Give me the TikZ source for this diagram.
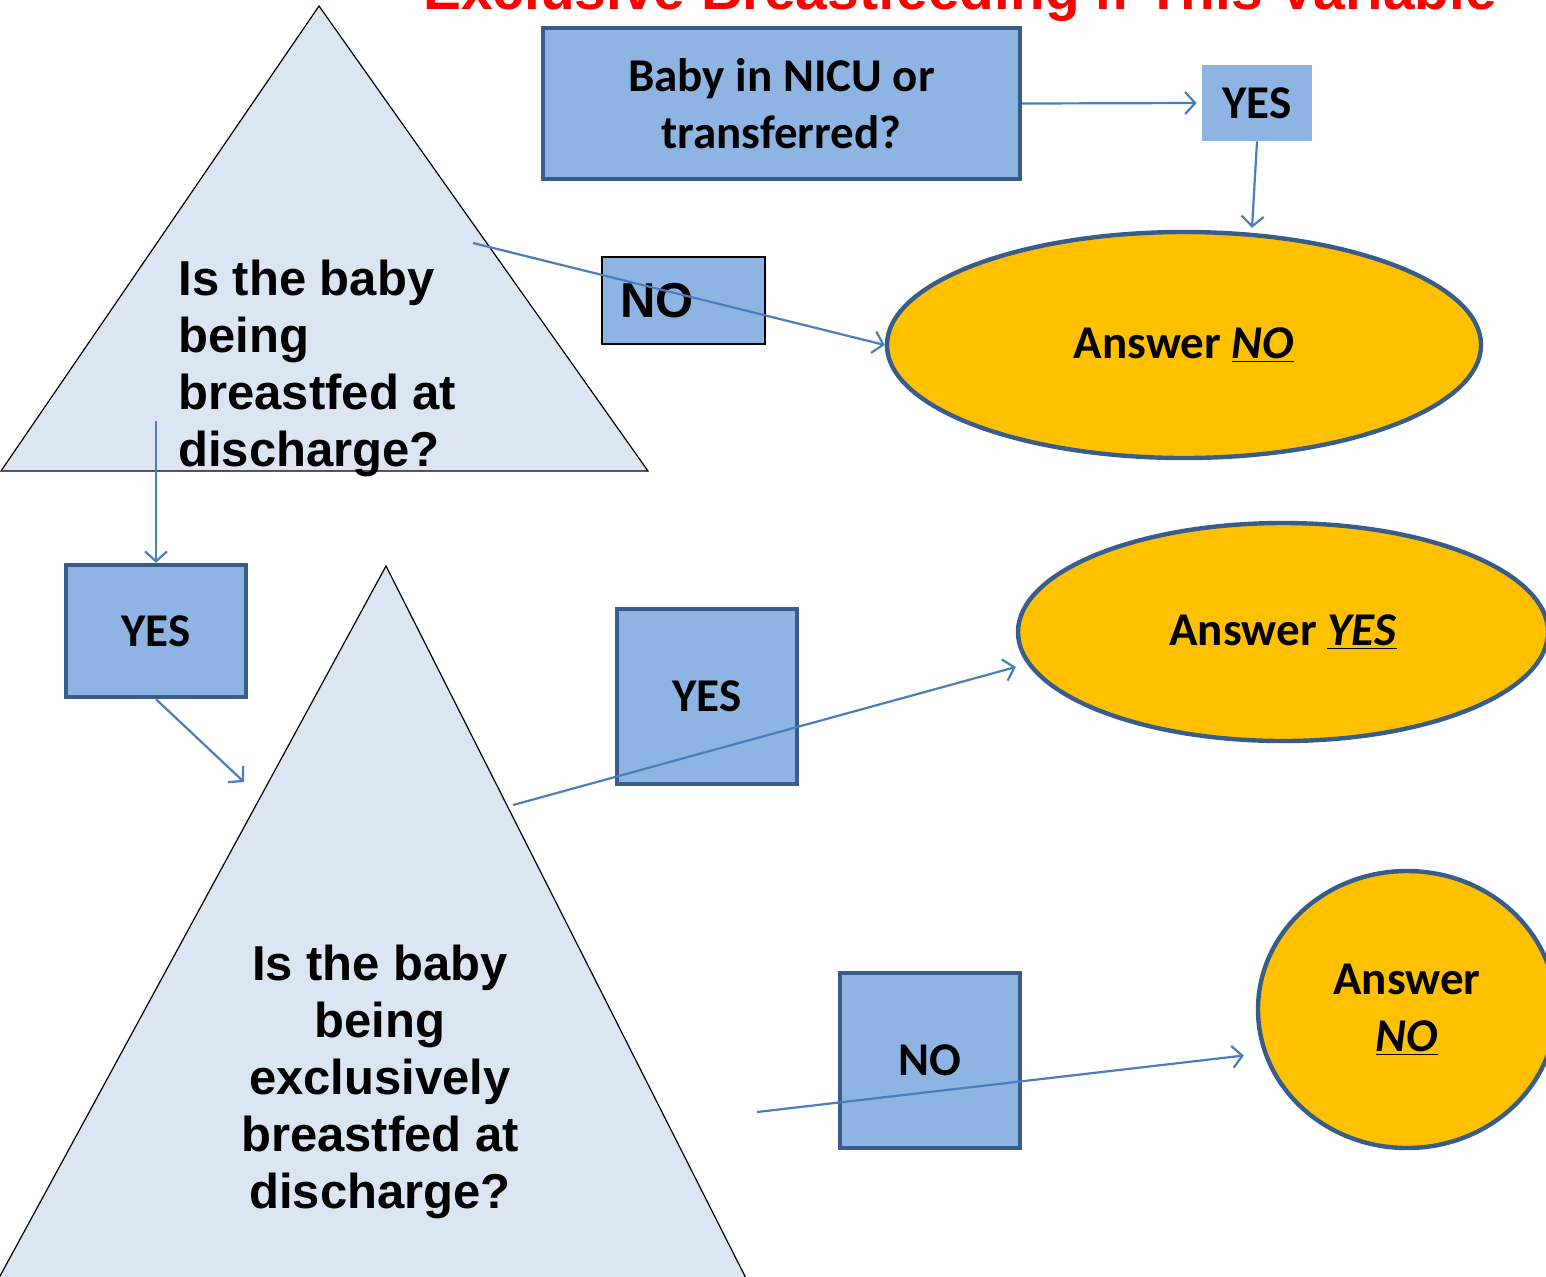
\documentclass[tikz,border=0pt]{standalone}
\usepackage{fontspec}
\setmainfont{Liberation Sans}
\newfontfamily\calib{Carlito}
\usetikzlibrary{shapes.geometric,arrows.meta,calc}
\definecolor{boxfill}{HTML}{8EB4E3}
\definecolor{boxline}{HTML}{385D8A}
\definecolor{trifill}{HTML}{DCE6F2}
\definecolor{ansfill}{HTML}{FFC000}
\definecolor{arrowc}{HTML}{4A7EBB}
\definecolor{titlered}{HTML}{FF0000}
\begin{document}
\begin{tikzpicture}[x=0.5pt,y=-0.5pt,
  calfont/.style={font=\calib\bfseries\fontsize{23.5}{28.5}\selectfont},
  arialfont/.style={font=\bfseries\fontsize{24.5}{28.5}\selectfont},
  bluebox/.style={rectangle, draw=boxline, line width=2.2pt, fill=boxfill, inner sep=0pt, calfont, align=center},
  plainbox/.style={rectangle, fill=boxfill, inner sep=0pt, calfont, align=center},
  nobox/.style={rectangle, draw=black, line width=0.7pt, fill=boxfill, inner ysep=0pt, inner xsep=9pt, arialfont, align=left},
  answer/.style={ellipse, draw=boxline, line width=2.2pt, fill=ansfill, inner sep=0pt, calfont, align=center},
  tri/.style={fill=trifill, draw=black, line width=0.6pt},
  conn/.style={draw=arrowc, line width=1.1pt, -{Straight Barb[length=5pt,width=11pt]}}
]
\useasboundingbox (0,0) rectangle (1546,1276);
\clip (0,0) rectangle (1546,1276);

% title (cut off at top, as in the reference)
\node[anchor=base, inner sep=0pt, text=titlered, font=\bfseries\fontsize{28.4}{30}\selectfont] (title) at (960,9) {Exclusive Breastfeeding if This Variable};

% triangles
\path[tri] (319,6) -- (1,471) -- (648,471) -- cycle;
\path[tri] (386,566) -- (-13,1300) -- (757,1300) -- cycle;

% questions
\node[arialfont, anchor=base west, align=left, inner sep=0pt] (q1) at (178,466) {Is the baby\\being\\breastfed at\\discharge?};
\node[arialfont, anchor=base, align=center, inner sep=0pt] (q2) at (380,1208) {Is the baby\\being\\exclusively\\breastfed at\\discharge?};

% boxes
\node[bluebox, minimum width=238.5pt, minimum height=75.5pt] (nicu) at (781.5,103.5) {Baby in NICU or\\transferred?};
\node[plainbox, minimum width=55pt, minimum height=38pt] (yes0) at (1257,103) {YES};
\node[nobox, text width=63.5pt, minimum height=43.5pt] (no1) at (683.5,300.5) {NO};
\node[bluebox, minimum width=90pt, minimum height=66pt] (yes1) at (156,631) {YES};
\node[bluebox, minimum width=90pt, minimum height=87.5pt] (yes2) at (707,696.5) {YES};
\node[bluebox, minimum width=90pt, minimum height=87.5pt] (no2) at (930,1060.5) {NO};

% answers
\node[answer, minimum width=297pt, minimum height=113pt] (ans1) at (1184,345) {Answer \underline{\textit{NO}}};
\node[answer, minimum width=265pt, minimum height=109pt] (ans2) at (1283,632) {Answer \underline{\textit{YES}}};
\node[answer, minimum width=149pt, minimum height=138.5pt] (ans3) at (1407,1009.5) {Answer\\\underline{\textit{NO}}};

% connector end points inside/near the triangles
\coordinate (t1no) at (473,243);
\coordinate (t1yes) at (156,421);
\coordinate (t2in) at (244,782);
\coordinate (t2yes) at (513,805);
\coordinate (t2no) at (757,1112);

% connectors
\draw[conn, shorten >=2.5pt] (nicu.east) -- (yes0.west);
\draw[conn] (yes0.south) -- ($(ans1.north)+(68,-2)$);
\draw[conn] (t1no) -- (ans1.west);
\draw[conn] (t1yes) -- (yes1.north);
\draw[conn] (yes1.south) -- (t2in);
\draw[conn] (t2yes) -- ($(ans2.west)+(0,35)$);
\draw[conn] (t2no) -- ($(ans3.west)+(-12,46)$);
\end{tikzpicture}
\end{document}
